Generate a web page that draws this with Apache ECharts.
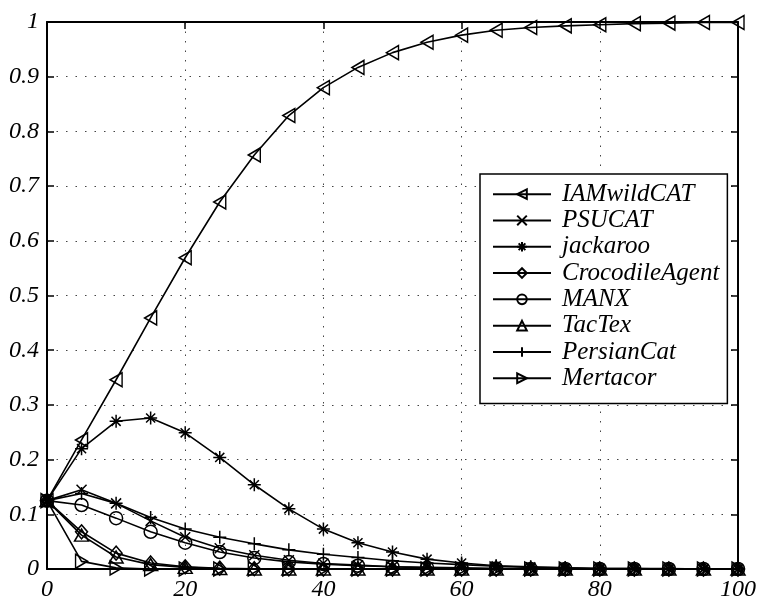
<!DOCTYPE html>
<html>
<head>
<meta charset="utf-8">
<script src="https://cdn.jsdelivr.net/npm/echarts@6/dist/echarts.min.js"></script>
<style>html,body{margin:0;padding:0;background:#fff}#c{width:759px;height:602px}</style>
</head>
<body>
<div id="c"></div>
<script>
var xValues = [0,5,10,15,20,25,30,35,40,45,50,55,60,65,70,75,80,85,90,95,100];
var IAMwildCAT = [0.125,0.236,0.346,0.459,0.569,0.671,0.757,0.829,0.880,0.917,0.944,0.963,0.976,0.985,0.990,0.993,0.995,0.997,0.998,0.999,0.999];
var PSUCAT = [0.125,0.145,0.120,0.088,0.058,0.038,0.025,0.016,0.010,0.007,0.004,0.003,0.002,0.001,0.001,0,0,0,0,0,0];
var jackaroo = [0.125,0.220,0.270,0.276,0.249,0.204,0.154,0.110,0.073,0.048,0.031,0.018,0.011,0.006,0.004,0.002,0.001,0.001,0,0,0];
var CrocodileAgent = [0.125,0.068,0.029,0.011,0.004,0.0015,0.0005,0.0002,0,0,0,0,0,0,0,0,0,0,0,0,0];
var MANX = [0.125,0.117,0.093,0.068,0.048,0.031,0.020,0.013,0.009,0.006,0.004,0.002,0.001,0.001,0,0,0,0,0,0,0];
var TacTex = [0.125,0.062,0.022,0.008,0.003,0.001,0,0,0,0,0,0,0,0,0,0,0,0,0,0,0];
var PersianCat = [0.125,0.138,0.120,0.094,0.073,0.058,0.046,0.035,0.027,0.021,0.015,0.011,0.008,0.005,0.003,0.002,0.001,0.001,0.001,0,0];
var Mertacor = [0.125,0.014,0.002,0,0,0,0,0,0,0,0,0,0,0,0,0,0,0,0,0,0];
var yTicks = [0,0.1,0.2,0.3,0.4,0.5,0.6,0.7,0.8,0.9,1];
var xTicks = [0,20,40,60,80,100];

var seriesDefs = [
  {name:'IAMwildCAT', data:IAMwildCAT, symbol:'path://M0,5 L9,0 L9,10 Z', size:[12,14]},
  {name:'PSUCAT', data:PSUCAT, symbol:'path://M0,0 L10,10 M10,0 L0,10', size:10},
  {name:'jackaroo', data:jackaroo, symbol:'path://M5,0 L5,10 M0,5 L10,5 M1.5,1.5 L8.5,8.5 M8.5,1.5 L1.5,8.5', size:13},
  {name:'CrocodileAgent', data:CrocodileAgent, symbol:'diamond', size:[12,14]},
  {name:'MANX', data:MANX, symbol:'circle', size:13},
  {name:'TacTex', data:TacTex, symbol:'path://M5,0 L10,9 L0,9 Z', size:[14,12]},
  {name:'PersianCat', data:PersianCat, symbol:'path://M5,0 L5,10 M0,5 L10,5', size:13},
  {name:'Mertacor', data:Mertacor, symbol:'path://M9,5 L0,0 L0,10 Z', size:[12,14]}
];

var font = 'Liberation Serif';
var series = seriesDefs.map(function(d){
  return {
    name:d.name, type:'line', xAxisIndex:0, yAxisIndex:0,
    data: xValues.map(function(x,i){return [x,d.data[i]];}),
    symbol:d.symbol, symbolSize:d.size, showSymbol:true,
    lineStyle:{color:'#000', width:1.6},
    itemStyle:{color:'rgba(0,0,0,0)', borderColor:'#000', borderWidth:1.5},
    emphasis:{disabled:true}
  };
});

var gridLine = {show:true, lineStyle:{color:'#444', type:[1.5,8], width:1}};
var chart = echarts.init(document.getElementById('c'), null, {renderer:'canvas'});
chart.setOption({
  animation:false,
  backgroundColor:'#fff',
  grid:{left:47, top:22, right:19, bottom:33, containLabel:false},
  xAxis:[
    {type:'value', min:0, max:100, interval:20, position:'bottom',
     axisLine:{show:true, onZero:false, lineStyle:{color:'#000', width:2}},
     axisTick:{show:true, inside:true, length:7, lineStyle:{color:'#000', width:1.5}},
     axisLabel:{fontFamily:font, fontStyle:'italic', fontSize:24, color:'#000', margin:9,
       formatter:function(v){return xTicks.indexOf(v)>=0 ? String(v) : '';}},
     splitLine:gridLine},
    {type:'value', min:0, max:100, interval:20, position:'top',
     axisLine:{show:true, onZero:false, lineStyle:{color:'#000', width:2}},
     axisTick:{show:true, inside:true, length:7, lineStyle:{color:'#000', width:1.5}},
     axisLabel:{show:false}, splitLine:{show:false}}
  ],
  yAxis:[
    {type:'value', min:0, max:1, interval:0.1, position:'left',
     axisLine:{show:true, onZero:false, lineStyle:{color:'#000', width:2}},
     axisTick:{show:true, inside:true, length:7, lineStyle:{color:'#000', width:1.5}},
     axisLabel:{fontFamily:font, fontStyle:'italic', fontSize:24, color:'#000', margin:8,
       formatter:function(v){var r=Math.round(v*10)/10; return yTicks.indexOf(r)>=0 ? String(r) : '';}},
     splitLine:gridLine},
    {type:'value', min:0, max:1, interval:0.1, position:'right',
     axisLine:{show:true, onZero:false, lineStyle:{color:'#000', width:2}},
     axisTick:{show:true, inside:true, length:7, lineStyle:{color:'#000', width:1.5}},
     axisLabel:{show:false}, splitLine:{show:false}}
  ],
  legend:{
    orient:'vertical', left:480, top:174,
    backgroundColor:'#fff', borderColor:'#000', borderWidth:1.5,
    padding:[7,8,12,12], itemGap:0, itemWidth:58, itemHeight:12,
    data: seriesDefs.map(function(d){return d.name;}),
    textStyle:{fontFamily:font, fontStyle:'italic', fontSize:25, lineHeight:26.3, color:'#000', padding:[0,0,0,6]},
    selectedMode:false
  },
  series:series
});
</script>
</body>
</html>
